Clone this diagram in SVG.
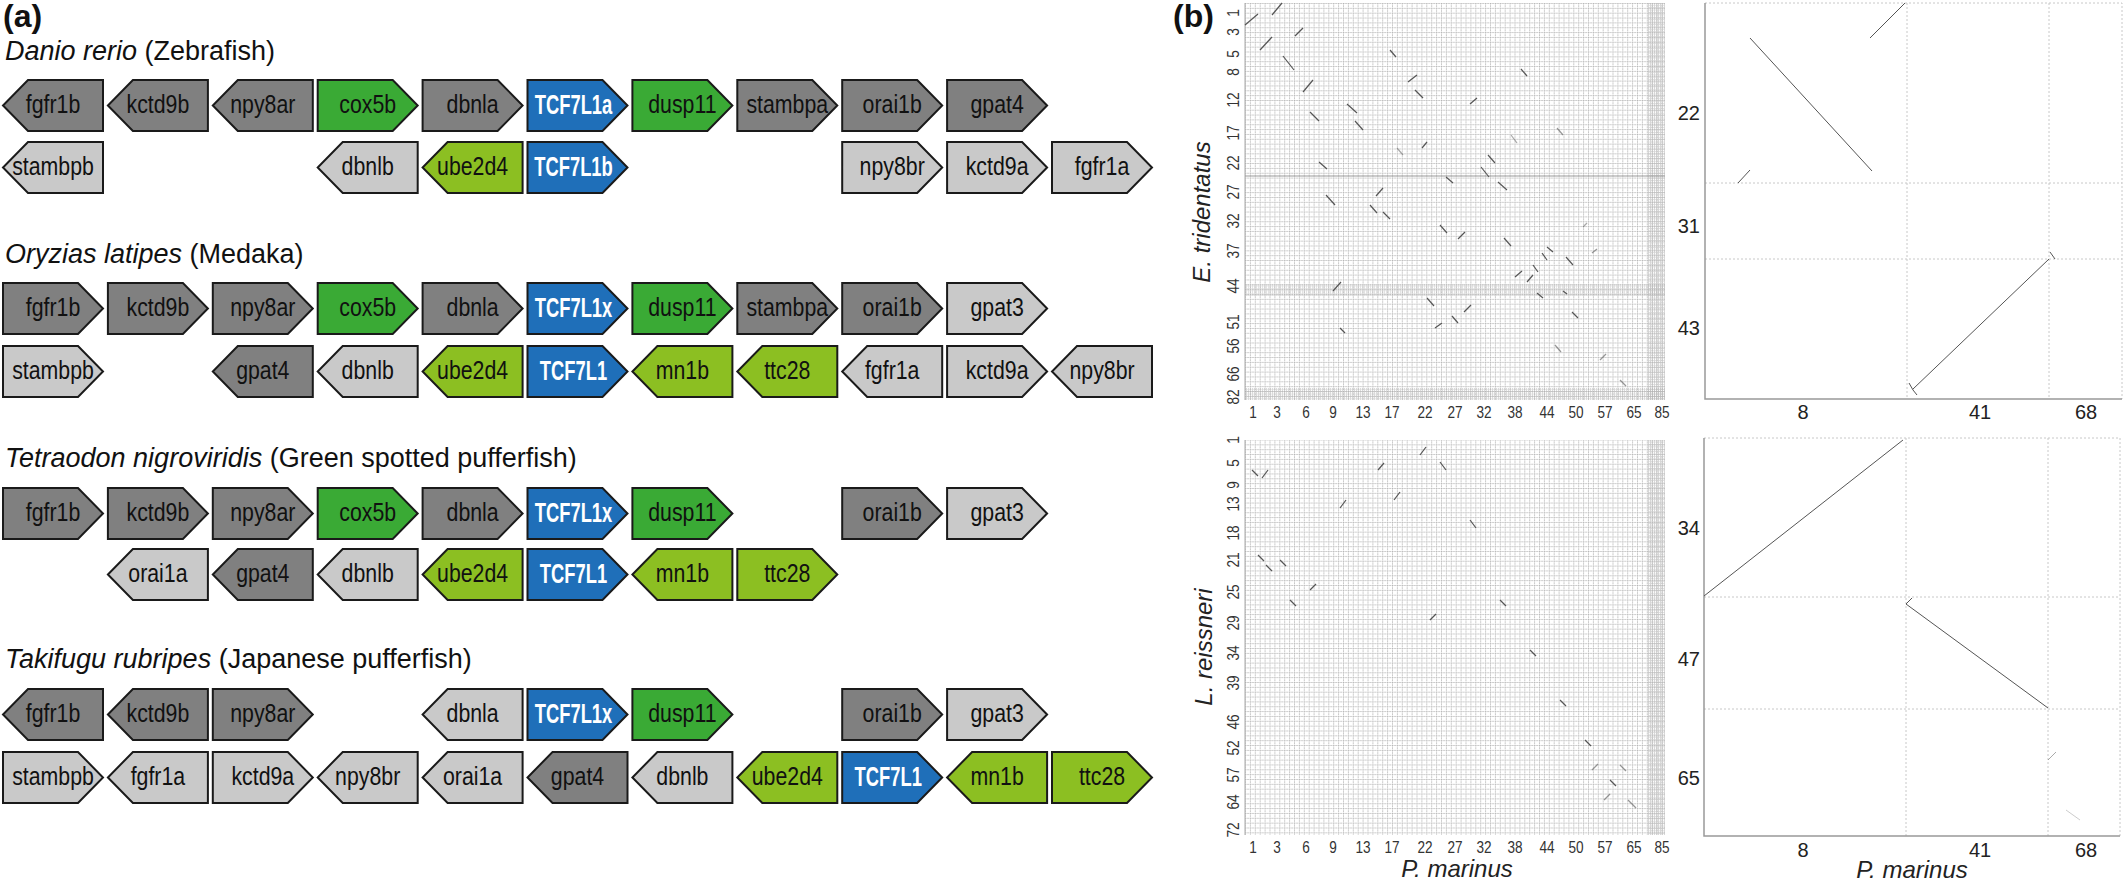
<svg xmlns="http://www.w3.org/2000/svg" xmlns:xlink="http://www.w3.org/1999/xlink" width="2128" height="883" viewBox="0 0 2128 883">
<style>
.g use{stroke:#1a1a1a;stroke-width:2;stroke-linejoin:miter}
.dk{fill:#808080}.lt{fill:#c9c9c9}.gr{fill:#3aaa35}.lm{fill:#8cbf22}.bl{fill:#1f6fb9}
.lb{font-family:"Liberation Sans",Arial,sans-serif;font-size:26px;fill:#111;text-anchor:middle}
.lbw{font-family:"Liberation Sans",Arial,sans-serif;font-size:27px;font-weight:bold;fill:#fff;text-anchor:middle}
.ttl{font-family:"Liberation Sans",Arial,sans-serif;font-size:27px;fill:#111}
.pl{font-family:"Liberation Sans",Arial,sans-serif;font-size:32px;font-weight:bold;fill:#111}
.tk{font-family:"Liberation Sans",Arial,sans-serif;font-size:17px;fill:#333;text-anchor:middle}
.tk2{font-family:"Liberation Sans",Arial,sans-serif;font-size:20px;fill:#222;text-anchor:middle}
.tk3{font-family:"Liberation Sans",Arial,sans-serif;font-size:20px;fill:#222;text-anchor:end}
.ax{font-family:"Liberation Sans",Arial,sans-serif;font-size:24px;font-style:italic;fill:#222;text-anchor:middle}
.seg line{stroke:#555;stroke-width:1.2}
.seg2 line, .seg2 polyline{stroke:#555;stroke-width:1;fill:none}
.gl{stroke:#c8c8c8;stroke-width:1;stroke-dasharray:2 2;fill:none}
.axl{stroke:#999;stroke-width:1.5;fill:none}
</style>
<defs>
<path id="R" d="M0,0H75L100,25.5L75,51H0Z"/>
<path id="L" d="M25,0H100V51H25L0,25.5Z"/>
<pattern id="grid" width="4.9" height="4.85" patternUnits="userSpaceOnUse" x="1245" y="3">
<path d="M0.5,0V4.85M0,0.5H4.9" stroke="#b4b4b4" stroke-width="0.9" stroke-dasharray="1.4 0.9"/>
</pattern>
<pattern id="gridf" width="2" height="2.4" patternUnits="userSpaceOnUse">
<path d="M0.5,0V2.4M0,0.5H2" stroke="#b0b0b0" stroke-width="0.8"/>
</pattern>
</defs>
<rect width="2128" height="883" fill="#fff"/>

<text class="pl" x="3" y="27">(a)</text>
<text class="ttl" x="5" y="60"><tspan font-style="italic">Danio rerio</tspan> (Zebrafish)</text>
<text class="ttl" x="5" y="263"><tspan font-style="italic">Oryzias latipes</tspan> (Medaka)</text>
<text class="ttl" x="5" y="467"><tspan font-style="italic">Tetraodon nigroviridis</tspan> (Green spotted pufferfish)</text>
<text class="ttl" x="5" y="668"><tspan font-style="italic">Takifugu rubripes</tspan> (Japanese pufferfish)</text>

<!-- Zebrafish row 1 -->
<g id="zf" class="g">
<g id="z1_fgfr1b" transform="translate(3,80)"><use href="#L" class="dk"/><text class="lb" transform="translate(50,33) scale(0.82,1)">fgfr1b</text></g>
<g id="z1_kctd9b" transform="translate(107.9,80)"><use href="#L" class="dk"/><text class="lb" transform="translate(50,33) scale(0.82,1)">kctd9b</text></g>
<g id="z1_npy8ar" transform="translate(212.8,80)"><use href="#L" class="dk"/><text class="lb" transform="translate(50,33) scale(0.82,1)">npy8ar</text></g>
<g id="z1_cox5b" transform="translate(317.7,80)"><use href="#R" class="gr"/><text class="lb" transform="translate(50,33) scale(0.82,1)">cox5b</text></g>
<g id="z1_dbnla" transform="translate(422.6,80)"><use href="#R" class="dk"/><text class="lb" transform="translate(50,33) scale(0.82,1)">dbnla</text></g>
<g id="z1_tcf7l1a" transform="translate(527.5,80)"><use href="#R" class="bl"/><text class="lbw" transform="translate(46,34) scale(0.68,1)">TCF7L1a</text></g>
<g id="z1_dusp11" transform="translate(632.4,80)"><use href="#R" class="gr"/><text class="lb" transform="translate(50,33) scale(0.82,1)">dusp11</text></g>
<g id="z1_stambpa" transform="translate(737.3,80)"><use href="#R" class="dk"/><text class="lb" transform="translate(50,33) scale(0.82,1)">stambpa</text></g>
<g id="z1_orai1b" transform="translate(842.2,80)"><use href="#R" class="dk"/><text class="lb" transform="translate(50,33) scale(0.82,1)">orai1b</text></g>
<g id="z1_gpat4" transform="translate(947.1,80)"><use href="#R" class="dk"/><text class="lb" transform="translate(50,33) scale(0.82,1)">gpat4</text></g>
<!-- row 2 -->
<g id="z2_stambpb" transform="translate(3,142)"><use href="#L" class="lt"/><text class="lb" transform="translate(50,33) scale(0.82,1)">stambpb</text></g>
<g id="z2_dbnlb" transform="translate(317.7,142)"><use href="#L" class="lt"/><text class="lb" transform="translate(50,33) scale(0.82,1)">dbnlb</text></g>
<g id="z2_ube2d4" transform="translate(422.6,142)"><use href="#L" class="lm"/><text class="lb" transform="translate(50,33) scale(0.82,1)">ube2d4</text></g>
<g id="z2_tcf7l1b" transform="translate(527.5,142)"><use href="#R" class="bl"/><text class="lbw" transform="translate(46,34) scale(0.68,1)">TCF7L1b</text></g>
<g id="z2_npy8br" transform="translate(842.2,142)"><use href="#R" class="lt"/><text class="lb" transform="translate(50,33) scale(0.82,1)">npy8br</text></g>
<g id="z2_kctd9a" transform="translate(947.1,142)"><use href="#R" class="lt"/><text class="lb" transform="translate(50,33) scale(0.82,1)">kctd9a</text></g>
<g id="z2_fgfr1a" transform="translate(1052,142)"><use href="#R" class="lt"/><text class="lb" transform="translate(50,33) scale(0.82,1)">fgfr1a</text></g>
</g>

<!-- Medaka -->
<g id="ol" class="g">
<g id="m1_fgfr1b" transform="translate(3,283)"><use href="#R" class="dk"/><text class="lb" transform="translate(50,33) scale(0.82,1)">fgfr1b</text></g>
<g id="m1_kctd9b" transform="translate(107.9,283)"><use href="#R" class="dk"/><text class="lb" transform="translate(50,33) scale(0.82,1)">kctd9b</text></g>
<g id="m1_npy8ar" transform="translate(212.8,283)"><use href="#R" class="dk"/><text class="lb" transform="translate(50,33) scale(0.82,1)">npy8ar</text></g>
<g id="m1_cox5b" transform="translate(317.7,283)"><use href="#R" class="gr"/><text class="lb" transform="translate(50,33) scale(0.82,1)">cox5b</text></g>
<g id="m1_dbnla" transform="translate(422.6,283)"><use href="#R" class="dk"/><text class="lb" transform="translate(50,33) scale(0.82,1)">dbnla</text></g>
<g id="m1_tcf7l1x" transform="translate(527.5,283)"><use href="#R" class="bl"/><text class="lbw" transform="translate(46,34) scale(0.68,1)">TCF7L1x</text></g>
<g id="m1_dusp11" transform="translate(632.4,283)"><use href="#R" class="gr"/><text class="lb" transform="translate(50,33) scale(0.82,1)">dusp11</text></g>
<g id="m1_stambpa" transform="translate(737.3,283)"><use href="#R" class="dk"/><text class="lb" transform="translate(50,33) scale(0.82,1)">stambpa</text></g>
<g id="m1_orai1b" transform="translate(842.2,283)"><use href="#R" class="dk"/><text class="lb" transform="translate(50,33) scale(0.82,1)">orai1b</text></g>
<g id="m1_gpat3" transform="translate(947.1,283)"><use href="#R" class="lt"/><text class="lb" transform="translate(50,33) scale(0.82,1)">gpat3</text></g>
<g id="m2_stambpb" transform="translate(3,346)"><use href="#R" class="lt"/><text class="lb" transform="translate(50,33) scale(0.82,1)">stambpb</text></g>
<g id="m2_gpat4" transform="translate(212.8,346)"><use href="#L" class="dk"/><text class="lb" transform="translate(50,33) scale(0.82,1)">gpat4</text></g>
<g id="m2_dbnlb" transform="translate(317.7,346)"><use href="#L" class="lt"/><text class="lb" transform="translate(50,33) scale(0.82,1)">dbnlb</text></g>
<g id="m2_ube2d4" transform="translate(422.6,346)"><use href="#L" class="lm"/><text class="lb" transform="translate(50,33) scale(0.82,1)">ube2d4</text></g>
<g id="m2_tcf7l1" transform="translate(527.5,346)"><use href="#R" class="bl"/><text class="lbw" transform="translate(46,34) scale(0.68,1)">TCF7L1</text></g>
<g id="m2_mn1b" transform="translate(632.4,346)"><use href="#L" class="lm"/><text class="lb" transform="translate(50,33) scale(0.82,1)">mn1b</text></g>
<g id="m2_ttc28" transform="translate(737.3,346)"><use href="#L" class="lm"/><text class="lb" transform="translate(50,33) scale(0.82,1)">ttc28</text></g>
<g id="m2_fgfr1a" transform="translate(842.2,346)"><use href="#L" class="lt"/><text class="lb" transform="translate(50,33) scale(0.82,1)">fgfr1a</text></g>
<g id="m2_kctd9a" transform="translate(947.1,346)"><use href="#R" class="lt"/><text class="lb" transform="translate(50,33) scale(0.82,1)">kctd9a</text></g>
<g id="m2_npy8br" transform="translate(1052,346)"><use href="#L" class="lt"/><text class="lb" transform="translate(50,33) scale(0.82,1)">npy8br</text></g>
</g>

<!-- Tetraodon -->
<g id="tn" class="g">
<g id="t1_fgfr1b" transform="translate(3,488)"><use href="#R" class="dk"/><text class="lb" transform="translate(50,33) scale(0.82,1)">fgfr1b</text></g>
<g id="t1_kctd9b" transform="translate(107.9,488)"><use href="#R" class="dk"/><text class="lb" transform="translate(50,33) scale(0.82,1)">kctd9b</text></g>
<g id="t1_npy8ar" transform="translate(212.8,488)"><use href="#R" class="dk"/><text class="lb" transform="translate(50,33) scale(0.82,1)">npy8ar</text></g>
<g id="t1_cox5b" transform="translate(317.7,488)"><use href="#R" class="gr"/><text class="lb" transform="translate(50,33) scale(0.82,1)">cox5b</text></g>
<g id="t1_dbnla" transform="translate(422.6,488)"><use href="#R" class="dk"/><text class="lb" transform="translate(50,33) scale(0.82,1)">dbnla</text></g>
<g id="t1_tcf7l1x" transform="translate(527.5,488)"><use href="#R" class="bl"/><text class="lbw" transform="translate(46,34) scale(0.68,1)">TCF7L1x</text></g>
<g id="t1_dusp11" transform="translate(632.4,488)"><use href="#R" class="gr"/><text class="lb" transform="translate(50,33) scale(0.82,1)">dusp11</text></g>
<g id="t1_orai1b" transform="translate(842.2,488)"><use href="#R" class="dk"/><text class="lb" transform="translate(50,33) scale(0.82,1)">orai1b</text></g>
<g id="t1_gpat3" transform="translate(947.1,488)"><use href="#R" class="lt"/><text class="lb" transform="translate(50,33) scale(0.82,1)">gpat3</text></g>
<g id="t2_orai1a" transform="translate(107.9,549)"><use href="#L" class="lt"/><text class="lb" transform="translate(50,33) scale(0.82,1)">orai1a</text></g>
<g id="t2_gpat4" transform="translate(212.8,549)"><use href="#L" class="dk"/><text class="lb" transform="translate(50,33) scale(0.82,1)">gpat4</text></g>
<g id="t2_dbnlb" transform="translate(317.7,549)"><use href="#L" class="lt"/><text class="lb" transform="translate(50,33) scale(0.82,1)">dbnlb</text></g>
<g id="t2_ube2d4" transform="translate(422.6,549)"><use href="#L" class="lm"/><text class="lb" transform="translate(50,33) scale(0.82,1)">ube2d4</text></g>
<g id="t2_tcf7l1" transform="translate(527.5,549)"><use href="#R" class="bl"/><text class="lbw" transform="translate(46,34) scale(0.68,1)">TCF7L1</text></g>
<g id="t2_mn1b" transform="translate(632.4,549)"><use href="#L" class="lm"/><text class="lb" transform="translate(50,33) scale(0.82,1)">mn1b</text></g>
<g id="t2_ttc28" transform="translate(737.3,549)"><use href="#R" class="lm"/><text class="lb" transform="translate(50,33) scale(0.82,1)">ttc28</text></g>
</g>

<!-- Takifugu -->
<g id="tr" class="g">
<g id="f1_fgfr1b" transform="translate(3,689)"><use href="#L" class="dk"/><text class="lb" transform="translate(50,33) scale(0.82,1)">fgfr1b</text></g>
<g id="f1_kctd9b" transform="translate(107.9,689)"><use href="#L" class="dk"/><text class="lb" transform="translate(50,33) scale(0.82,1)">kctd9b</text></g>
<g id="f1_npy8ar" transform="translate(212.8,689)"><use href="#R" class="dk"/><text class="lb" transform="translate(50,33) scale(0.82,1)">npy8ar</text></g>
<g id="f1_dbnla" transform="translate(422.6,689)"><use href="#L" class="lt"/><text class="lb" transform="translate(50,33) scale(0.82,1)">dbnla</text></g>
<g id="f1_tcf7l1x" transform="translate(527.5,689)"><use href="#R" class="bl"/><text class="lbw" transform="translate(46,34) scale(0.68,1)">TCF7L1x</text></g>
<g id="f1_dusp11" transform="translate(632.4,689)"><use href="#R" class="gr"/><text class="lb" transform="translate(50,33) scale(0.82,1)">dusp11</text></g>
<g id="f1_orai1b" transform="translate(842.2,689)"><use href="#R" class="dk"/><text class="lb" transform="translate(50,33) scale(0.82,1)">orai1b</text></g>
<g id="f1_gpat3" transform="translate(947.1,689)"><use href="#R" class="lt"/><text class="lb" transform="translate(50,33) scale(0.82,1)">gpat3</text></g>
<g id="f2_stambpb" transform="translate(3,752)"><use href="#R" class="lt"/><text class="lb" transform="translate(50,33) scale(0.82,1)">stambpb</text></g>
<g id="f2_fgfr1a" transform="translate(107.9,752)"><use href="#L" class="lt"/><text class="lb" transform="translate(50,33) scale(0.82,1)">fgfr1a</text></g>
<g id="f2_kctd9a" transform="translate(212.8,752)"><use href="#R" class="lt"/><text class="lb" transform="translate(50,33) scale(0.82,1)">kctd9a</text></g>
<g id="f2_npy8br" transform="translate(317.7,752)"><use href="#L" class="lt"/><text class="lb" transform="translate(50,33) scale(0.82,1)">npy8br</text></g>
<g id="f2_orai1a" transform="translate(422.6,752)"><use href="#L" class="lt"/><text class="lb" transform="translate(50,33) scale(0.82,1)">orai1a</text></g>
<g id="f2_gpat4" transform="translate(527.5,752)"><use href="#L" class="dk"/><text class="lb" transform="translate(50,33) scale(0.82,1)">gpat4</text></g>
<g id="f2_dbnlb" transform="translate(632.4,752)"><use href="#L" class="lt"/><text class="lb" transform="translate(50,33) scale(0.82,1)">dbnlb</text></g>
<g id="f2_ube2d4" transform="translate(737.3,752)"><use href="#L" class="lm"/><text class="lb" transform="translate(50,33) scale(0.82,1)">ube2d4</text></g>
<g id="f2_tcf7l1" transform="translate(842.2,752)"><use href="#R" class="bl"/><text class="lbw" transform="translate(46,34) scale(0.68,1)">TCF7L1</text></g>
<g id="f2_mn1b" transform="translate(947.1,752)"><use href="#L" class="lm"/><text class="lb" transform="translate(50,33) scale(0.82,1)">mn1b</text></g>
<g id="f2_ttc28" transform="translate(1052,752)"><use href="#R" class="lm"/><text class="lb" transform="translate(50,33) scale(0.82,1)">ttc28</text></g>
</g>

<!-- Panel b -->
<text class="pl" x="1173" y="27">(b)</text>

<!-- top-left dot plot -->
<g id="plot_et">
<rect x="1245" y="3" width="420" height="397" fill="url(#grid)"/>
<rect x="1648" y="3" width="17" height="397" fill="url(#gridf)" opacity="0.55"/>
<rect x="1245" y="388" width="420" height="12" fill="url(#gridf)" opacity="0.5"/>
<rect x="1245" y="284" width="420" height="12" fill="url(#gridf)" opacity="0.4"/>
<line x1="1245" y1="176" x2="1665" y2="176" stroke="#999" stroke-width="1"/>
<line x1="1245" y1="3" x2="1245" y2="400" stroke="#aaa" stroke-width="1"/>
<g class="seg">
<line x1="1245" y1="25" x2="1258" y2="14"/>
<line x1="1272" y1="15" x2="1282" y2="3"/>
<line x1="1295" y1="36" x2="1303" y2="28"/>
<line x1="1260" y1="50" x2="1272" y2="37"/>
<line x1="1283" y1="56" x2="1294" y2="70"/>
<line x1="1303" y1="92" x2="1313" y2="80"/>
<line x1="1390" y1="50" x2="1396" y2="57"/>
<line x1="1408" y1="82" x2="1417" y2="75"/>
<line x1="1415" y1="90" x2="1423" y2="98"/>
<line x1="1470" y1="104" x2="1477" y2="98"/>
<line x1="1521" y1="69" x2="1527" y2="76"/>
<line x1="1310" y1="112" x2="1319" y2="121"/>
<line x1="1347" y1="104" x2="1357" y2="113"/>
<line x1="1355" y1="121" x2="1363" y2="130"/>
<line x1="1422" y1="148" x2="1427" y2="142"/>
<line x1="1397" y1="148" x2="1403" y2="155" opacity="0.5"/>
<line x1="1511" y1="135" x2="1517" y2="143" opacity="0.5"/>
<line x1="1557" y1="128" x2="1563" y2="135" opacity="0.6"/>
<line x1="1319" y1="162" x2="1327" y2="169"/>
<line x1="1488" y1="155" x2="1495" y2="163"/>
<line x1="1481" y1="167" x2="1489" y2="177"/>
<line x1="1446" y1="177" x2="1453" y2="183"/>
<line x1="1498" y1="182" x2="1507" y2="190"/>
<line x1="1376" y1="196" x2="1383" y2="188"/>
<line x1="1326" y1="195" x2="1335" y2="205"/>
<line x1="1370" y1="205" x2="1377" y2="213"/>
<line x1="1383" y1="212" x2="1390" y2="219"/>
<line x1="1440" y1="225" x2="1447" y2="233"/>
<line x1="1458" y1="239" x2="1465" y2="232"/>
<line x1="1504" y1="238" x2="1511" y2="246"/>
<line x1="1583" y1="227" x2="1587" y2="223" opacity="0.5"/>
<line x1="1547" y1="247" x2="1553" y2="252"/>
<line x1="1542" y1="253" x2="1547" y2="260"/>
<line x1="1592" y1="253" x2="1597" y2="249" opacity="0.6"/>
<line x1="1566" y1="257" x2="1573" y2="265"/>
<line x1="1533" y1="265" x2="1538" y2="272"/>
<line x1="1515" y1="277" x2="1522" y2="271"/>
<line x1="1527" y1="282" x2="1533" y2="275"/>
<line x1="1333" y1="291" x2="1341" y2="282"/>
<line x1="1537" y1="293" x2="1543" y2="298"/>
<line x1="1563" y1="291" x2="1567" y2="294"/>
<line x1="1427" y1="298" x2="1434" y2="306"/>
<line x1="1464" y1="312" x2="1471" y2="305"/>
<line x1="1572" y1="312" x2="1578" y2="318"/>
<line x1="1452" y1="316" x2="1458" y2="323"/>
<line x1="1435" y1="328" x2="1442" y2="323"/>
<line x1="1340" y1="328" x2="1345" y2="333"/>
<line x1="1555" y1="345" x2="1561" y2="352" opacity="0.6"/>
<line x1="1600" y1="360" x2="1606" y2="354" opacity="0.6"/>
<line x1="1620" y1="380" x2="1626" y2="386" opacity="0.6"/>
</g>
<g id="et_ylab">
<text class="tk" transform="translate(1239,13) rotate(-90) scale(0.8,1)">1</text>
<text class="tk" transform="translate(1239,32) rotate(-90) scale(0.8,1)">3</text>
<text class="tk" transform="translate(1239,54) rotate(-90) scale(0.8,1)">5</text>
<text class="tk" transform="translate(1239,72) rotate(-90) scale(0.8,1)">8</text>
<text class="tk" transform="translate(1239,100) rotate(-90) scale(0.8,1)">12</text>
<text class="tk" transform="translate(1239,133) rotate(-90) scale(0.8,1)">17</text>
<text class="tk" transform="translate(1239,163) rotate(-90) scale(0.8,1)">22</text>
<text class="tk" transform="translate(1239,192) rotate(-90) scale(0.8,1)">27</text>
<text class="tk" transform="translate(1239,221) rotate(-90) scale(0.8,1)">32</text>
<text class="tk" transform="translate(1239,251) rotate(-90) scale(0.8,1)">37</text>
<text class="tk" transform="translate(1239,286) rotate(-90) scale(0.8,1)">44</text>
<text class="tk" transform="translate(1239,322) rotate(-90) scale(0.8,1)">51</text>
<text class="tk" transform="translate(1239,346) rotate(-90) scale(0.8,1)">56</text>
<text class="tk" transform="translate(1239,374) rotate(-90) scale(0.8,1)">66</text>
<text class="tk" transform="translate(1239,397) rotate(-90) scale(0.8,1)">82</text>
</g>
<g id="et_xlab">
<text class="tk" transform="translate(1253,418) scale(0.8,1)">1</text>
<text class="tk" transform="translate(1277,418) scale(0.8,1)">3</text>
<text class="tk" transform="translate(1306,418) scale(0.8,1)">6</text>
<text class="tk" transform="translate(1333,418) scale(0.8,1)">9</text>
<text class="tk" transform="translate(1363,418) scale(0.8,1)">13</text>
<text class="tk" transform="translate(1392,418) scale(0.8,1)">17</text>
<text class="tk" transform="translate(1425,418) scale(0.8,1)">22</text>
<text class="tk" transform="translate(1455,418) scale(0.8,1)">27</text>
<text class="tk" transform="translate(1484,418) scale(0.8,1)">32</text>
<text class="tk" transform="translate(1515,418) scale(0.8,1)">38</text>
<text class="tk" transform="translate(1547,418) scale(0.8,1)">44</text>
<text class="tk" transform="translate(1576,418) scale(0.8,1)">50</text>
<text class="tk" transform="translate(1605,418) scale(0.8,1)">57</text>
<text class="tk" transform="translate(1634,418) scale(0.8,1)">65</text>
<text class="tk" transform="translate(1662,418) scale(0.8,1)">85</text>
</g>
<text class="ax" transform="translate(1210,212) rotate(-90)">E. tridentatus</text>
</g>

<!-- bottom-left dot plot -->
<g id="plot_lr">
<rect x="1245" y="440" width="420" height="395" fill="url(#grid)"/>
<rect x="1648" y="440" width="17" height="395" fill="url(#gridf)" opacity="0.55"/>
<line x1="1245" y1="440" x2="1245" y2="835" stroke="#aaa" stroke-width="1"/>
<g class="seg">
<line x1="1252" y1="470" x2="1258" y2="476"/>
<line x1="1262" y1="478" x2="1268" y2="470"/>
<line x1="1420" y1="455" x2="1426" y2="447"/>
<line x1="1378" y1="470" x2="1384" y2="463"/>
<line x1="1440" y1="462" x2="1446" y2="470"/>
<line x1="1394" y1="500" x2="1400" y2="492"/>
<line x1="1340" y1="508" x2="1346" y2="500"/>
<line x1="1470" y1="520" x2="1476" y2="528"/>
<line x1="1258" y1="555" x2="1264" y2="561"/>
<line x1="1266" y1="565" x2="1272" y2="571"/>
<line x1="1280" y1="560" x2="1286" y2="566"/>
<line x1="1290" y1="600" x2="1296" y2="606"/>
<line x1="1310" y1="590" x2="1316" y2="584"/>
<line x1="1500" y1="600" x2="1506" y2="606"/>
<line x1="1430" y1="620" x2="1436" y2="614"/>
<line x1="1530" y1="650" x2="1536" y2="656"/>
<line x1="1560" y1="700" x2="1566" y2="706"/>
<line x1="1585" y1="740" x2="1591" y2="746"/>
<line x1="1610" y1="780" x2="1616" y2="786"/>
<line x1="1592" y1="770" x2="1598" y2="764" opacity="0.6"/>
<line x1="1620" y1="765" x2="1626" y2="771" opacity="0.6"/>
<line x1="1604" y1="800" x2="1610" y2="794" opacity="0.6"/>
<line x1="1628" y1="800" x2="1636" y2="808" opacity="0.6"/>
</g>
<g id="lr_ylab">
<text class="tk" transform="translate(1239,440) rotate(-90) scale(0.8,1)">1</text>
<text class="tk" transform="translate(1239,463) rotate(-90) scale(0.8,1)">5</text>
<text class="tk" transform="translate(1239,485) rotate(-90) scale(0.8,1)">9</text>
<text class="tk" transform="translate(1239,504) rotate(-90) scale(0.8,1)">13</text>
<text class="tk" transform="translate(1239,533) rotate(-90) scale(0.8,1)">18</text>
<text class="tk" transform="translate(1239,560) rotate(-90) scale(0.8,1)">21</text>
<text class="tk" transform="translate(1239,592) rotate(-90) scale(0.8,1)">25</text>
<text class="tk" transform="translate(1239,623) rotate(-90) scale(0.8,1)">29</text>
<text class="tk" transform="translate(1239,653) rotate(-90) scale(0.8,1)">34</text>
<text class="tk" transform="translate(1239,683) rotate(-90) scale(0.8,1)">39</text>
<text class="tk" transform="translate(1239,722) rotate(-90) scale(0.8,1)">46</text>
<text class="tk" transform="translate(1239,748) rotate(-90) scale(0.8,1)">52</text>
<text class="tk" transform="translate(1239,775) rotate(-90) scale(0.8,1)">57</text>
<text class="tk" transform="translate(1239,802) rotate(-90) scale(0.8,1)">64</text>
<text class="tk" transform="translate(1239,830) rotate(-90) scale(0.8,1)">72</text>
</g>
<g id="lr_xlab">
<text class="tk" transform="translate(1253,853) scale(0.8,1)">1</text>
<text class="tk" transform="translate(1277,853) scale(0.8,1)">3</text>
<text class="tk" transform="translate(1306,853) scale(0.8,1)">6</text>
<text class="tk" transform="translate(1333,853) scale(0.8,1)">9</text>
<text class="tk" transform="translate(1363,853) scale(0.8,1)">13</text>
<text class="tk" transform="translate(1392,853) scale(0.8,1)">17</text>
<text class="tk" transform="translate(1425,853) scale(0.8,1)">22</text>
<text class="tk" transform="translate(1455,853) scale(0.8,1)">27</text>
<text class="tk" transform="translate(1484,853) scale(0.8,1)">32</text>
<text class="tk" transform="translate(1515,853) scale(0.8,1)">38</text>
<text class="tk" transform="translate(1547,853) scale(0.8,1)">44</text>
<text class="tk" transform="translate(1576,853) scale(0.8,1)">50</text>
<text class="tk" transform="translate(1605,853) scale(0.8,1)">57</text>
<text class="tk" transform="translate(1634,853) scale(0.8,1)">65</text>
<text class="tk" transform="translate(1662,853) scale(0.8,1)">85</text>
</g>
<text class="ax" transform="translate(1212,647) rotate(-90)">L. reissneri</text>
<text class="ax" x="1457" y="877">P. marinus</text>
</g>

<!-- top-right zoom plot -->
<g id="zoom_et">
<path class="gl" d="M1705,3H2122V399M1705,183H2122M1705,259H2122M1907,3V399M2049,3V399"/>
<path class="axl" d="M1705,3V399H2122"/>
<g class="seg2">
<line x1="1750" y1="38" x2="1872" y2="171"/>
<line x1="1870" y1="38" x2="1905" y2="3"/>
<line x1="1738" y1="183" x2="1750" y2="170"/>
<line x1="2049" y1="259" x2="1913" y2="389"/>
<polyline points="2050,252 2055,259"/>
<polyline points="1909,383 1913,390 1917,395"/>
</g>
<text class="tk3" x="1700" y="120">22</text>
<text class="tk3" x="1700" y="233">31</text>
<text class="tk3" x="1700" y="335">43</text>
<text class="tk2" x="1803" y="419">8</text>
<text class="tk2" x="1980" y="419">41</text>
<text class="tk2" x="2086" y="419">68</text>
</g>

<!-- bottom-right zoom plot -->
<g id="zoom_lr">
<path class="gl" d="M1704,438H2120V836M1704,597H2120M1704,709H2120M1906,438V836M2048,438V836"/>
<path class="axl" d="M1704,438V836H2120"/>
<g class="seg2">
<line x1="1704" y1="596" x2="1903" y2="440"/>
<line x1="1906" y1="604" x2="2048" y2="708"/>
<polyline points="1906,604 1912,598"/>
<line x1="2048" y1="760" x2="2056" y2="752" opacity="0.5"/>
<line x1="2066" y1="810" x2="2080" y2="820" opacity="0.3"/>
</g>
<text class="tk3" x="1700" y="535">34</text>
<text class="tk3" x="1700" y="666">47</text>
<text class="tk3" x="1700" y="785">65</text>
<text class="tk2" x="1803" y="857">8</text>
<text class="tk2" x="1980" y="857">41</text>
<text class="tk2" x="2086" y="857">68</text>
<text class="ax" x="1912" y="878">P. marinus</text>
</g>
</svg>
